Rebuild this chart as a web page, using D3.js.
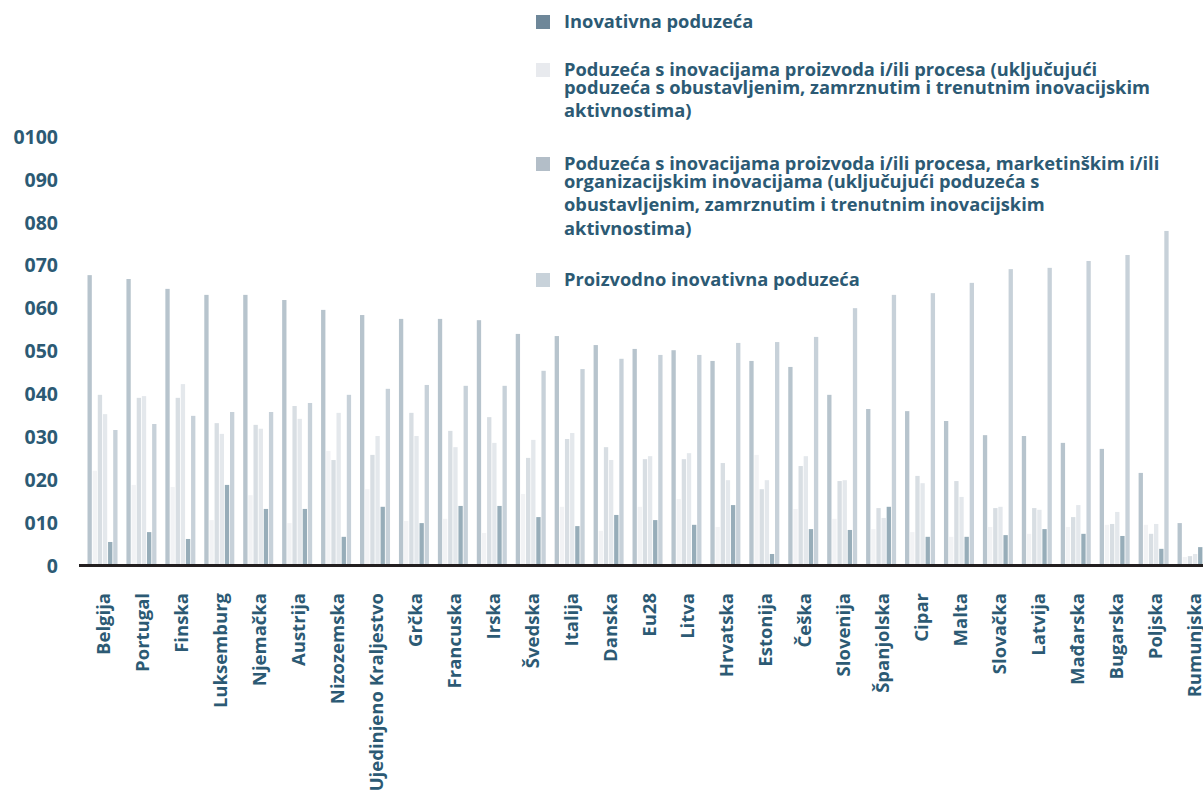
<!DOCTYPE html>
<html>
<head>
<meta charset="utf-8">
<script src="https://cdn.jsdelivr.net/npm/d3@7"></script>
<style>
  html, body { margin: 0; padding: 0; background: #fff; }
  svg { display: block; }
  text { font-family: "Open Sans", Lato, sans-serif; font-weight: 700; fill: #2c5a74; }
</style>
</head>
<body>
<svg id="chart" width="1203" height="791"></svg>
<script>
const countries = ["Belgija", "Portugal", "Finska", "Luksemburg", "Njemačka", "Austrija", "Nizozemska",
  "Ujedinjeno Kraljestvo", "Grčka", "Francuska", "Irska", "Švedska", "Italija", "Danska", "Eu28",
  "Litva", "Hrvatska", "Estonija", "Češka", "Slovenija", "Španjolska", "Cipar", "Malta",
  "Slovačka", "Latvija", "Mađarska", "Bugarska", "Poljska", "Rumunjska"];

// six bars per country, left to right
const barA = [67.8, 66.9, 64.6, 63.2, 63.2, 62.0, 59.7, 58.5, 57.6, 57.6, 57.3, 54.1, 53.6, 51.5, 50.6,
  50.3, 47.8, 47.8, 46.4, 39.9, 36.6, 36.1, 33.8, 30.5, 30.3, 28.7, 27.3, 21.7, 10.0];
const barB = [22.2, 18.9, 18.4, 10.7, 16.5, 10.0, 26.8, 17.9, 10.5, 11.0, 7.7, 16.8, 13.8, 8.2, 13.8,
  15.6, 9.1, 25.9, 13.3, 11.0, 8.6, 7.9, 6.8, 9.1, 7.5, 9.1, 9.6, 9.6, 2.1];
const barC = [39.9, 39.2, 39.2, 33.3, 32.9, 37.3, 24.7, 25.9, 35.7, 31.5, 34.7, 25.2, 29.6, 27.7, 24.9,
  24.9, 24.0, 17.9, 23.3, 19.8, 13.5, 21.0, 19.8, 13.5, 13.5, 11.4, 9.8, 7.5, 2.3];
const barD = [35.4, 39.6, 42.4, 30.8, 32.0, 34.3, 35.7, 30.3, 30.3, 27.7, 28.7, 29.4, 31.0, 24.7, 25.6,
  26.3, 20.0, 20.0, 25.6, 20.0, 11.2, 19.3, 16.1, 13.8, 13.1, 14.2, 12.6, 9.8, 2.8];
const barE = [5.6, 7.9, 6.3, 18.9, 13.3, 13.3, 6.8, 13.8, 10.0, 14.0, 14.0, 11.4, 9.3, 11.9, 10.7,
  9.6, 14.2, 2.8, 8.6, 8.4, 13.8, 6.8, 6.8, 7.2, 8.6, 7.5, 7.0, 4.0, 4.4];
const barF = [31.7, 33.1, 35.0, 35.9, 35.9, 38.0, 39.9, 41.3, 42.2, 42.0, 42.0, 45.5, 45.9, 48.3, 49.2,
  49.2, 52.0, 52.2, 53.4, 60.1, 63.2, 63.6, 66.0, 69.2, 69.5, 71.1, 72.5, 78.1, 79.0];

const yTicks = [0, 10, 20, 30, 40, 50, 60, 70, 80, 90, 100];

const legendItems = [
  ["Inovativna poduzeća"],
  ["Poduzeća s inovacijama proizvoda i/ili procesa (uključujući",
   "poduzeća s obustavljenim, zamrznutim i trenutnim inovacijskim",
   "aktivnostima)"],
  ["Poduzeća s inovacijama proizvoda i/ili procesa, marketinškim i/ili",
   "organizacijskim inovacijama (uključujući poduzeća s",
   "obustavljenim, zamrznutim i trenutnim inovacijskim",
   "aktivnostima)"],
  ["Proizvodno inovativna poduzeća"]
];

const series = [barA, barB, barC, barD, barE, barF];
const barColors = ["#b7c4cd", "#f2f3f5", "#d8dee3", "#e4e8ec", "#97adb9", "#c7d1d9"];
const legendColors = ["#6e8799", "#e8eaee", "#b3bec8", "#c8d2da"];

const svg = d3.select("#chart");

// scales
const step = 38.93;
const pIn = 0.229, pOut = 0.1145;
const x0 = 87.5 - pOut * step;
const x = d3.scaleBand()
  .domain(countries)
  .range([x0, x0 + step * (countries.length - pIn + 2 * pOut)])
  .paddingInner(pIn)
  .paddingOuter(pOut);

const xs = d3.scaleBand()
  .domain(d3.range(series.length))
  .range([0, x.bandwidth()])
  .paddingInner(0.16);

const y = d3.scaleLinear().domain([0, 100]).range([566, 137]);

// y axis labels
const yAxis = svg.append("g")
  .attr("transform", "translate(58,0)")
  .call(d3.axisLeft(y).tickValues(yTicks).tickSize(0).tickPadding(0)
    .tickFormat(d => d === 0 ? "0" : "0" + d));
yAxis.select(".domain").remove();
yAxis.selectAll("text")
  .style("font-size", "19.5px")
  .style("font-family", "'Open Sans', sans-serif")
  .style("font-weight", 700)
  .attr("fill", "#2c5a74");

// bars
const groups = svg.append("g").selectAll("g")
  .data(countries)
  .join("g")
  .attr("transform", d => `translate(${x(d)},0)`);

groups.selectAll("rect")
  .data((c, i) => series.map((s, k) => ({ k, v: s[i] })))
  .join("rect")
  .attr("x", d => xs(d.k))
  .attr("width", xs.bandwidth())
  .attr("y", d => y(d.v))
  .attr("height", d => y(0) - y(d.v))
  .attr("fill", d => barColors[d.k]);

// baseline
svg.append("line")
  .attr("x1", 79).attr("x2", 1203)
  .attr("y1", y(0) - 0.5).attr("y2", y(0) - 0.5)
  .attr("stroke", "#231f20")
  .attr("stroke-width", 3);

// category labels
svg.append("g").selectAll("text")
  .data(countries)
  .join("text")
  .attr("transform", d => `translate(${x(d) + x.bandwidth() / 2 + 1.5},593) rotate(-90)`)
  .attr("text-anchor", "end")
  .attr("dy", "0.35em")
  .style("font-size", "18.5px")
  .text(d => d);

// legend
const legendTops = [15, 63, 157, 273];
const lineH = 23.7;
const legend = svg.append("g");
legendItems.forEach((lines, i) => {
  legend.append("rect")
    .attr("x", 536).attr("y", legendTops[i])
    .attr("width", 14).attr("height", 14)
    .attr("fill", legendColors[i]);
  const t = legend.append("text")
    .attr("x", 564)
    .attr("y", legendTops[i] + 7)
    .attr("dy", "0.35em")
    .style("font-size", "18.3px");
  lines.forEach((ln, j) => {
    t.append("tspan")
      .attr("x", 564)
      .attr("y", legendTops[i] + 7 + j * lineH)
      .text(ln);
  });
});
</script>
</body>
</html>
